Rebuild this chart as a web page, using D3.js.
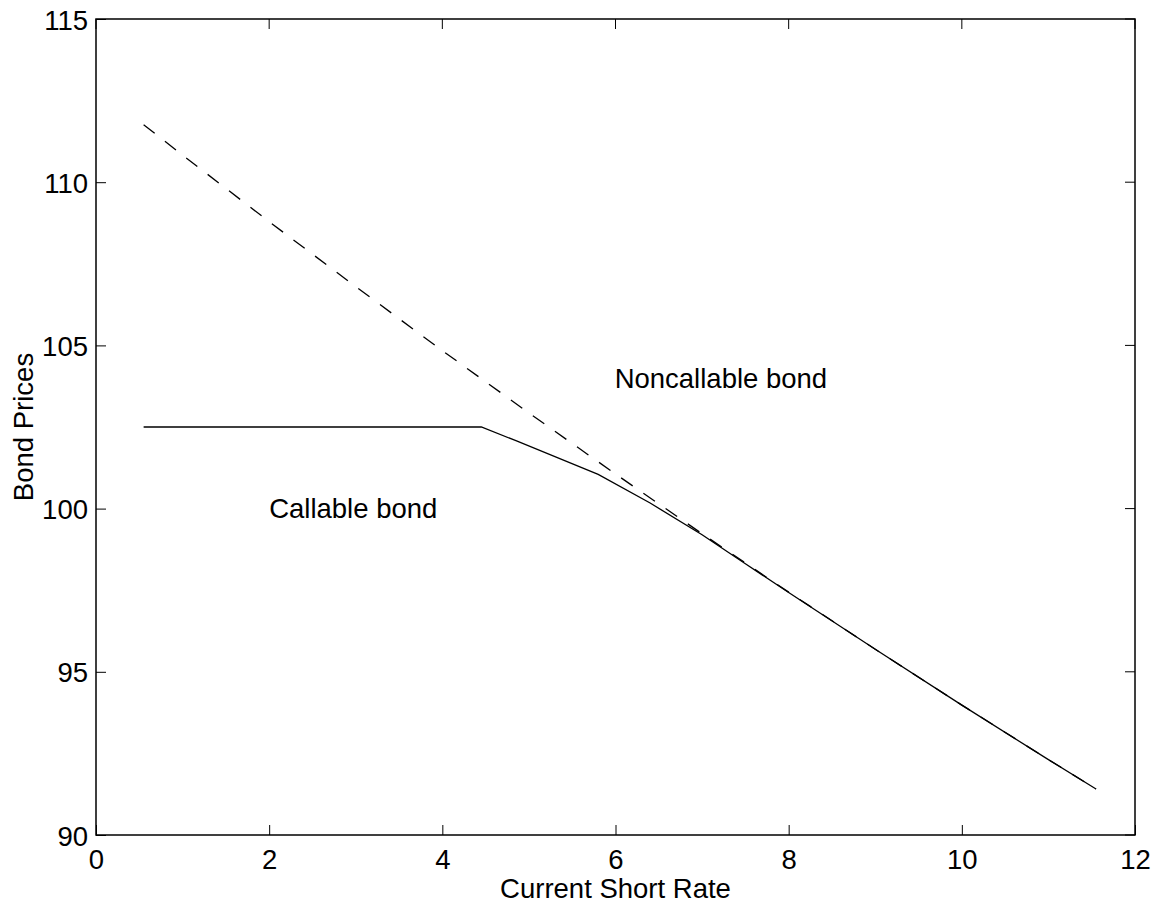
<!DOCTYPE html>
<html><head><meta charset="utf-8">
<script src="https://cdn.jsdelivr.net/npm/d3@7"></script>
<style>body{margin:0;background:#fff}svg{display:block}text{font-family:"Liberation Sans",Arial,sans-serif;fill:#000}</style>
</head><body><svg id="c" width="1156" height="903"></svg>
<script>
const xTicks=[0,2,4,6,8,10,12];
const yTicks=[90,95,100,105,110,115];
const nonX=[0.55,1,2,3,4,5,6,7,8,9,10,11,11.55];
const nonY=[111.76,110.83,108.79,106.80,104.84,102.93,101.06,99.23,97.44,95.69,93.98,92.31,91.41];
const callX=[0.55,4.45,4.85,5.8,6.4,7,7.5,8,9,10,11,11.55];
const callY=[102.5,102.5,102.08,101.05,100.17,99.2,98.31,97.43,95.69,93.98,92.31,91.41];
const labels=[{t:"Noncallable bond",x:5.99,y:103.69},{t:"Callable bond",x:2.0,y:99.71}];

const svg=d3.select("#c");
const L=96,R=1135,T=19,B=835;
const x=d3.scaleLinear().domain([0,12]).range([L,R]);
const y=d3.scaleLinear().domain([90,115]).range([B,T]);
const fs=27.5;
const ff='"Liberation Sans",Arial,sans-serif';
svg.append("rect").attr("x",L).attr("y",T).attr("width",R-L).attr("height",B-T).attr("fill","none").attr("stroke","#000").attr("stroke-width",1.5);
const gx=svg.append("g").attr("transform",`translate(0,${B})`).call(d3.axisBottom(x).tickValues(xTicks).tickSize(-10).tickPadding(14.5).tickFormat(d3.format("d")));
const gy=svg.append("g").attr("transform",`translate(${L},0)`).call(d3.axisLeft(y).tickValues(yTicks).tickSize(-10).tickPadding(8).tickFormat(d3.format("d")));
[gx,gy].forEach(g=>{g.select(".domain").remove();g.selectAll(".tick line").attr("stroke","#000").attr("stroke-width",1);g.selectAll("text").attr("font-size",fs).attr("font-family",ff).attr("fill","#000");});
gy.selectAll("text").attr("dy","0.37em");
svg.append("g").selectAll("line").data(xTicks).join("line").attr("x1",d=>x(d)).attr("x2",d=>x(d)).attr("y1",T).attr("y2",T+10).attr("stroke","#000");
svg.append("g").selectAll("line").data(yTicks).join("line").attr("x1",R).attr("x2",R-10).attr("y1",d=>y(d)).attr("y2",d=>y(d)).attr("stroke","#000");

const line=d3.line().x(d=>x(d[0])).y(d=>y(d[1]));
svg.append("path").datum(nonX.map((v,i)=>[v,nonY[i]])).attr("d",line).attr("fill","none").attr("stroke","#000").attr("stroke-width",1.3).attr("stroke-dasharray","14,13");
svg.append("path").datum(callX.map((v,i)=>[v,callY[i]])).attr("d",line).attr("fill","none").attr("stroke","#000").attr("stroke-width",1.3);

svg.selectAll(".lab").data(labels).join("text").attr("class","lab").attr("x",d=>x(d.x)).attr("y",d=>y(d.y)).attr("font-size",fs).text(d=>d.t);
svg.append("text").attr("x",(L+R)/2).attr("y",898).attr("text-anchor","middle").attr("font-size",fs).text("Current Short Rate");
svg.append("text").attr("transform",`translate(33,${(T+B)/2}) rotate(-90)`).attr("text-anchor","middle").attr("font-size",fs).text("Bond Prices");
</script></body></html>
